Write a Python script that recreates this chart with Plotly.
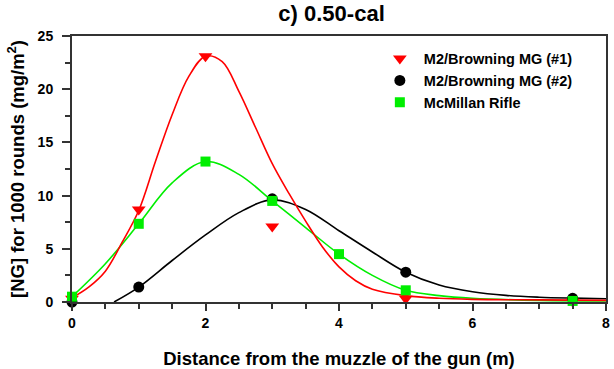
import plotly.graph_objects as go

# Measured points
dist_mg1 = [0, 1, 2, 3, 5, 7.5]
ng_mg1 = [0.3, 8.7, 23.1, 7.1, 0.3, 0.05]

dist_mg2 = [0, 1, 3, 5, 7.5]
ng_mg2 = [0.0, 1.4, 9.7, 2.8, 0.35]

dist_rifle = [0, 1, 2, 3, 4, 5, 7.5]
ng_rifle = [0.5, 7.35, 13.2, 9.5, 4.5, 1.1, 0.1]

# Fitted curves
fit_x_mg1 = [0, 0.25, 0.5, 0.75, 1, 1.25, 1.5, 1.75, 2, 2.25, 2.5, 2.75, 3, 3.25, 3.5, 3.75, 4, 4.25, 4.5, 5, 5.5, 6, 7, 8]
fit_y_mg1 = [0.4, 1.4, 2.9, 5.6, 8.6, 13.2, 17.6, 21.2, 23.1, 22.6, 19.8, 16.4, 13.0, 10.2, 7.6, 5.2, 3.3, 2.0, 1.2, 0.6, 0.35, 0.25, 0.2, 0.15]

fit_x_mg2 = [0.63, 1, 1.5, 2, 2.5, 3, 3.5, 4, 4.5, 5, 5.5, 6, 6.5, 7, 7.5, 8]
fit_y_mg2 = [0.0, 1.4, 3.9, 6.3, 8.4, 9.6, 8.7, 6.7, 4.7, 2.8, 1.6, 0.97, 0.62, 0.45, 0.36, 0.3]

fit_x_rifle = [0, 0.5, 1, 1.5, 2, 2.5, 3, 3.5, 4, 4.5, 5, 5.5, 6, 7, 8]
fit_y_rifle = [0.5, 3.6, 7.35, 11.2, 13.2, 12.0, 9.5, 7.0, 4.5, 2.5, 1.1, 0.6, 0.35, 0.15, 0.1]

x_ticks = [0, 2, 4, 6, 8]
y_ticks = [0, 5, 10, 15, 20, 25]

names = ["M2/Browning MG (#1)", "M2/Browning MG (#2)", "McMillan Rifle"]

RED = "#ff0000"
BLACK = "#000000"
GREEN = "#00ee00"
FONT = "Liberation Sans, Arial, sans-serif"

fig = go.Figure()

# Fitted lines
fig.add_trace(go.Scatter(x=fit_x_mg2, y=fit_y_mg2, mode="lines", line=dict(color=BLACK, width=1.6, shape="spline"),
                         showlegend=False, hoverinfo="skip"))
fig.add_trace(go.Scatter(x=fit_x_rifle, y=fit_y_rifle, mode="lines", line=dict(color=GREEN, width=1.6, shape="spline"),
                         showlegend=False, hoverinfo="skip"))
fig.add_trace(go.Scatter(x=fit_x_mg1, y=fit_y_mg1, mode="lines", line=dict(color=RED, width=1.6, shape="spline"),
                         showlegend=False, hoverinfo="skip"))

# Markers
fig.add_trace(go.Scatter(x=dist_mg1, y=ng_mg1, mode="markers", name=names[0],
                         marker=dict(symbol="triangle-down", size=12, color=RED), cliponaxis=False))
fig.add_trace(go.Scatter(x=dist_mg2, y=ng_mg2, mode="markers", name=names[1],
                         marker=dict(symbol="circle", size=11, color=BLACK), cliponaxis=False))
fig.add_trace(go.Scatter(x=dist_rifle, y=ng_rifle, mode="markers", name=names[2],
                         marker=dict(symbol="square", size=10, color=GREEN), cliponaxis=False))

tick_font = dict(family=FONT, size=14, color="#000", weight="bold")
title_font = dict(family=FONT, size=18.5, color="#000", weight="bold")

fig.update_layout(
    width=614, height=369,
    margin=dict(l=72, r=8, t=36, b=67, autoexpand=False),
    paper_bgcolor="white", plot_bgcolor="white",
    font=dict(family=FONT, color="#000"),
    title=dict(text="c) 0.50-cal", x=0.54, xanchor="center", y=0.965, yanchor="middle",
               font=dict(family=FONT, size=22, color="#000", weight="bold")),
    legend=dict(x=0.569, y=0.975, xanchor="left", yanchor="top", bgcolor="rgba(0,0,0,0)",
                font=dict(family=FONT, size=14.5, color="#000", weight="bold"),
                itemwidth=38, tracegroupgap=0),
    showlegend=True,
)

fig.update_xaxes(
    range=[0, 8], tickvals=x_ticks, ticks="outside", ticklen=7, tickwidth=1.5, tickcolor="#333",
    minor=dict(dtick=0.5, tick0=0, ticks="outside", ticklen=5, tickwidth=1.5, tickcolor="#333"),
    showline=True, linecolor="#333", linewidth=2, mirror=True, showgrid=False, zeroline=False,
    tickfont=tick_font, automargin=False,
    title=dict(text="Distance from the muzzle of the gun (m)", standoff=22, font=title_font),
)
fig.update_yaxes(
    range=[0, 25], tickvals=y_ticks, ticks="outside", ticklen=8, tickwidth=1.5, tickcolor="#333",
    minor=dict(dtick=2.5, tick0=0, ticks="outside", ticklen=5, tickwidth=1.5, tickcolor="#333"),
    showline=True, linecolor="#333", linewidth=2, mirror=True, showgrid=False, zeroline=False,
    tickfont=tick_font, ticklabelstandoff=6, automargin=False,
    title=dict(text="[NG] for 1000 rounds (mg/m<sup>2</sup>)", standoff=8, font=title_font),
)

fig.write_html("out.html", config={"displayModeBar": False},
               post_script="document.body.style.margin='0';document.body.style.overflow='hidden';")
